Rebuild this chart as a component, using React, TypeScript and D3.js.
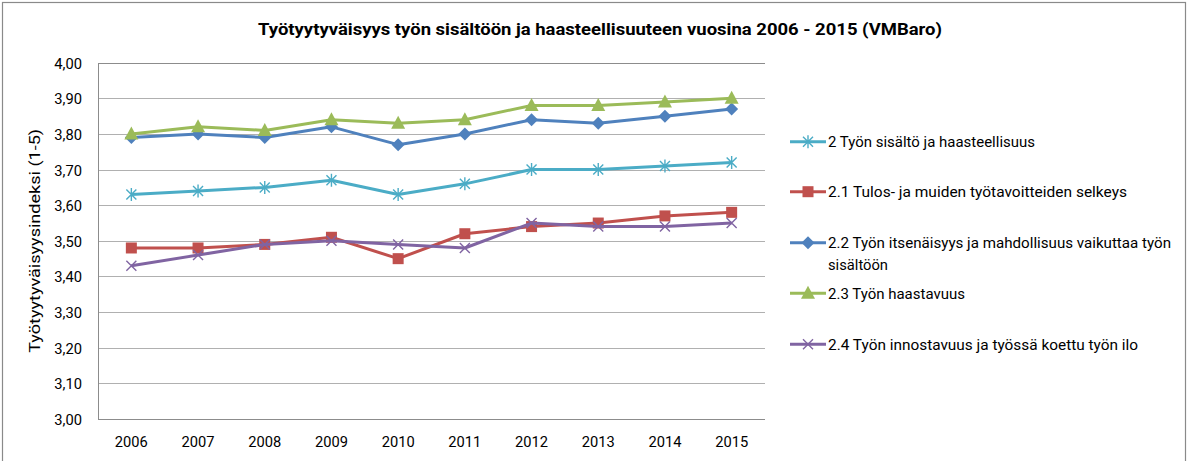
import React from "react";
import * as d3 from "d3";

const years = ["2006","2007","2008","2009","2010","2011","2012","2013","2014","2015"];
const s2 = [3.63,3.64,3.65,3.67,3.63,3.66,3.70,3.70,3.71,3.72];
const s21 = [3.48,3.48,3.49,3.51,3.45,3.52,3.54,3.55,3.57,3.58];
const s22 = [3.79,3.80,3.79,3.82,3.77,3.80,3.84,3.83,3.85,3.87];
const s23 = [3.80,3.82,3.81,3.84,3.83,3.84,3.88,3.88,3.89,3.90];
const s24 = [3.43,3.46,3.49,3.50,3.49,3.48,3.55,3.54,3.54,3.55];
const yTicks = [3.0,3.1,3.2,3.3,3.4,3.5,3.6,3.7,3.8,3.9,4.0];
const seriesNames = [
  "2 Työn sisältö ja haasteellisuus",
  "2.1 Tulos- ja muiden työtavoitteiden selkeys",
  "2.2 Työn itsenäisyys ja mahdollisuus vaikuttaa työn|sisältöön",
  "2.3 Työn haastavuus",
  "2.4 Työn innostavuus ja työssä koettu työn ilo",
];
const title = "Työtyytyväisyys työn sisältöön ja haasteellisuuteen vuosina 2006 - 2015 (VMBaro)";
const yTitle = "Työtyytyväisyysindeksi (1-5)";

const series = [
  { name: seriesNames[0], values: s2, color: "#4BACC6", marker: "star" },
  { name: seriesNames[1], values: s21, color: "#C0504D", marker: "square" },
  { name: seriesNames[2], values: s22, color: "#4F81BD", marker: "diamond" },
  { name: seriesNames[3], values: s23, color: "#9BBB59", marker: "triangle" },
  { name: seriesNames[4], values: s24, color: "#8064A2", marker: "x" },
];

// approximate rendered widths of the legend lines in the reference
const legendWidths = [[207], [299], [343, 60], [137], [310]];

const FONT = "Roboto, 'Open Sans', sans-serif";

function Marker({ type, x, y, color }: { type: string; x: number; y: number; color: string }) {
  if (type === "square") return <rect x={x - 5.5} y={y - 5.5} width={11} height={11} fill={color} />;
  if (type === "diamond") return <path d={`M${x},${y - 6.5}L${x + 6.5},${y}L${x},${y + 6.5}L${x - 6.5},${y}Z`} fill={color} />;
  if (type === "triangle") return <path d={`M${x},${y - 7.5}L${x + 7},${y + 5.5}L${x - 7},${y + 5.5}Z`} fill={color} />;
  if (type === "x")
    return (
      <path d={`M${x - 5},${y - 5}L${x + 5},${y + 5}M${x - 5},${y + 5}L${x + 5},${y - 5}`} stroke={color} strokeWidth={1.4} />
    );
  return (
    <path
      d={`M${x - 5},${y - 5}L${x + 5},${y + 5}M${x - 5},${y + 5}L${x + 5},${y - 5}M${x},${y - 6.5}L${x},${y + 6.5}`}
      stroke={color}
      strokeWidth={1.4}
    />
  );
}

export default function App() {
  const W = 1189, H = 461;
  const left = 98, right = 765, top = 62.7, bottom = 419;
  const x = d3.scaleBand().domain(years).range([left, right]);
  const y = d3.scaleLinear().domain([3, 4]).range([bottom, top]);
  const cx = (i: number) => (x(years[i]) as number) + x.bandwidth() / 2;
  const line = d3
    .line<number>()
    .x((_, i) => cx(i))
    .y((d) => y(d));

  const legendY = [141.7, 191.7, 242.7, 293.3, 344.3];
  const gridY = (t: number) => Math.round(y(t)) + 0.5;

  return (
    <svg width={W} height={H} style={{ display: "block", position: "absolute", left: 0, top: 0 }} fontFamily={FONT}>
      <rect x={0} y={0} width={W} height={H} fill="#fff" />
      <rect x={2.5} y={2.5} width={1183} height={470} fill="none" stroke="#8A8A8A" strokeWidth={1.2} />
      <text x={600} y={35} textAnchor="middle" fontWeight="bold" fontSize={16.5} fill="#000" textLength={684} lengthAdjust="spacingAndGlyphs">
        {title}
      </text>
      {yTicks.map((t) => (
        <g key={t}>
          {t > 3 && t < 4 && <line x1={left} x2={right} y1={gridY(t)} y2={gridY(t)} stroke="#B0B0B0" strokeWidth={1} />}
          <text x={82} y={y(t) + 6} textAnchor="end" fontSize={14.5} fill="#000" textLength={27.7} lengthAdjust="spacingAndGlyphs">
            {d3.format(".2f")(t).replace(".", ",")}
          </text>
        </g>
      ))}
      <line x1={left} x2={right} y1={gridY(4)} y2={gridY(4)} stroke="#8C8C8C" />
      <line x1={left} x2={right} y1={gridY(3)} y2={gridY(3)} stroke="#8C8C8C" />
      <line x1={left + 0.5} x2={left + 0.5} y1={gridY(4)} y2={gridY(3)} stroke="#8C8C8C" />
      {years.map((yr, i) => (
        <text key={yr} x={cx(i)} y={447} textAnchor="middle" fontSize={14.5} fill="#000" textLength={33} lengthAdjust="spacingAndGlyphs">
          {yr}
        </text>
      ))}
      <text
        transform={`translate(40,${(top + bottom) / 2}) rotate(-90)`}
        textAnchor="middle"
        fontSize={14.5}
        fill="#000"
        textLength={224}
        lengthAdjust="spacingAndGlyphs"
      >
        {yTitle}
      </text>
      {series.map((s) => (
        <g key={s.name}>
          <path d={line(s.values) || ""} fill="none" stroke={s.color} strokeWidth={3} strokeLinejoin="round" />
          {s.values.map((v, i) => (
            <Marker key={i} type={s.marker} x={cx(i)} y={y(v)} color={s.color} />
          ))}
        </g>
      ))}
      {series.map((s, i) => {
        const ly = legendY[i];
        const parts = s.name.split("|");
        return (
          <g key={"lg" + i}>
            <line x1={790} x2={826} y1={ly} y2={ly} stroke={s.color} strokeWidth={3} />
            <Marker type={s.marker} x={808} y={ly} color={s.color} />
            {parts.map((p, j) => (
              <text
                key={j}
                x={828}
                y={ly + 5.6 + j * 21.6}
                fontSize={14.5}
                fill="#000"
                textLength={legendWidths[i][j]}
                lengthAdjust="spacingAndGlyphs"
              >
                {p}
              </text>
            ))}
          </g>
        );
      })}
    </svg>
  );
}
